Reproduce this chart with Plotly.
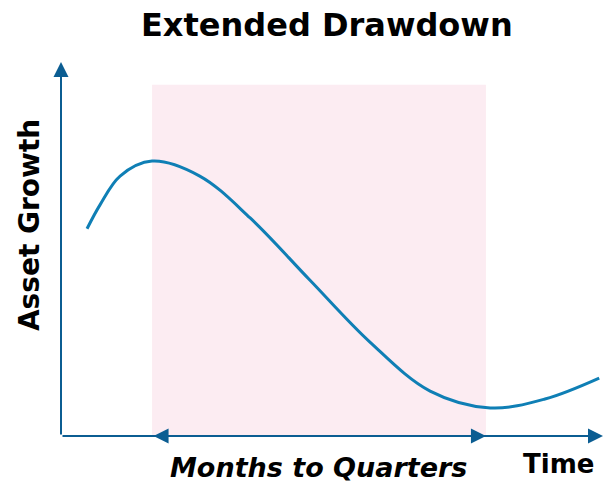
import plotly.graph_objects as go

# Conceptual curve data (time 0-100, growth 0-100)
time_vals = [4.8, 7.2, 10.9, 16.8, 25.6, 34.9, 45.9, 57.0, 68.1, 79.2, 89.3, 99.3]
growth_vals = [55.4, 61.8, 69.5, 73.5, 69.5, 58.3, 41.7, 25.1, 12.0, 7.5, 9.9, 15.5]

drawdown_span = [16.8, 78.4]   # start/end of extended drawdown (time)
shade_top = 93.9
axis_max = [100, 100]

title_text = "Extended Drawdown"
x_label = "Time"
y_label = "Asset Growth"
span_label = "Months to Quarters"

FONT = "DejaVu Sans"
AXIS_COLOR = "#0b5d92"
CURVE_COLOR = "#0f7fb5"

fig = go.Figure()
fig.add_trace(go.Scatter(x=time_vals, y=growth_vals, mode="lines",
                         line=dict(color=CURVE_COLOR, width=3, shape="spline", smoothing=1.0),
                         hoverinfo="skip", showlegend=False))

fig.add_shape(type="rect", xref="x", yref="y",
              x0=drawdown_span[0], x1=drawdown_span[1], y0=0, y1=shade_top,
              fillcolor="#fcecf2", line=dict(width=0), layer="below")

annotations = [
    # y axis arrow
    dict(x=0, y=axis_max[1], ax=0, ay=0, xref="x", yref="y", axref="x", ayref="y",
         showarrow=True, arrowhead=2, arrowsize=1.5, arrowwidth=2, arrowcolor=AXIS_COLOR,
         text="", standoff=0, startstandoff=0),
    # x axis arrow
    dict(x=axis_max[0], y=0, ax=0, ay=0, xref="x", yref="y", axref="x", ayref="y",
         showarrow=True, arrowhead=2, arrowsize=1.5, arrowwidth=2, arrowcolor=AXIS_COLOR,
         text="", standoff=0, startstandoff=0),
    # drawdown double arrow
    dict(x=drawdown_span[1], y=0, ax=drawdown_span[0], ay=0, xref="x", yref="y",
         axref="x", ayref="y", showarrow=True, arrowhead=2, startarrowhead=2,
         arrowside="end+start", arrowsize=1.5, startarrowsize=1.5, arrowwidth=2,
         arrowcolor=AXIS_COLOR, text="", standoff=0, startstandoff=0),
    dict(x=0.490, y=1.0976, xref="paper", yref="paper", text="<b>" + title_text + "</b>",
         showarrow=False, font=dict(family=FONT, size=32, color="black"),
         xanchor="center", yanchor="middle"),
    dict(x=0.476, y=-0.0829, xref="paper", yref="paper", text="<b><i>" + span_label + "</i></b>",
         showarrow=False, font=dict(family=FONT, size=27, color="black"),
         xanchor="center", yanchor="middle"),
    dict(x=0.917, y=-0.0749, xref="paper", yref="paper", text="<b>" + x_label + "</b>",
         showarrow=False, font=dict(family=FONT, size=26, color="black"),
         xanchor="center", yanchor="middle"),
    dict(x=-0.059, y=0.564, xref="paper", yref="paper", text="<b>" + y_label + "</b>",
         showarrow=False, font=dict(family=FONT, size=28, color="black"),
         textangle=-90, xanchor="center", yanchor="middle"),
]

fig.update_layout(
    width=603, height=483,
    margin=dict(l=61, r=0, t=62, b=47),
    paper_bgcolor="white", plot_bgcolor="white",
    xaxis=dict(range=[0, axis_max[0]], visible=False, fixedrange=True),
    yaxis=dict(range=[0, axis_max[1]], visible=False, fixedrange=True),
    annotations=annotations,
    showlegend=False,
)

fig.write_html("out.html", config={"displayModeBar": False},
               post_script="document.body.style.margin='0';document.body.style.overflow='hidden';")
